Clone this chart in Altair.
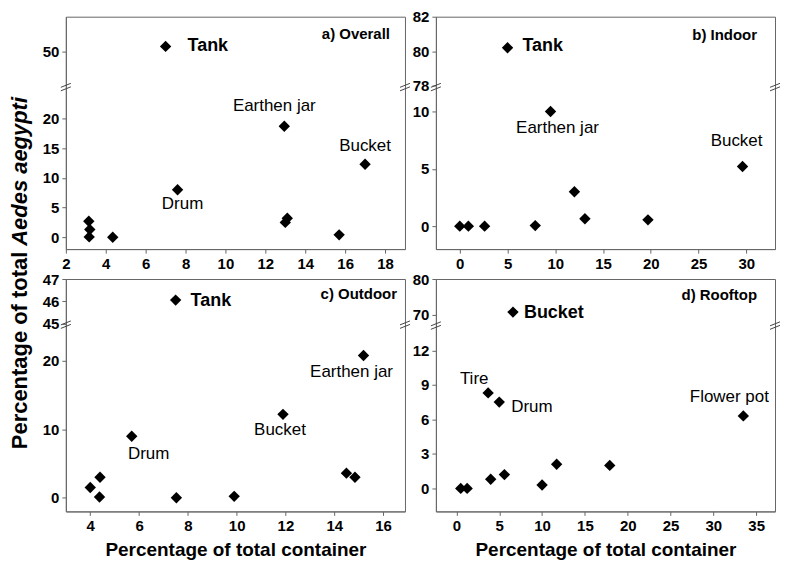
import altair as alt
import pandas as pd

FONT = "Liberation Sans"

# ---------------- data ----------------
# a) Overall
a_x = [7.0, 12.95, 17.0, 7.6, 3.15, 3.2, 3.17, 4.35, 13.0, 13.1, 15.7]
a_y = [51.4, 18.7, 12.3, 8.0, 2.7, 1.3, 0.05, 0.0, 2.5, 3.2, 0.4]
a_lab = ["Tank", "Earthen jar", "Bucket", "Drum", "", "", "", "", "", "", ""]

# b) Indoor
b_x = [5.0, 9.5, 29.6, 12.0, 13.1, 19.7, 0.0, 0.9, 2.6, 7.9]
b_y = [80.2, 10.0, 5.2, 3.0, 0.65, 0.55, 0.0, 0.0, 0.0, 0.05]
b_lab = ["Tank", "Earthen jar", "Bucket", "", "", "", "", "", "", ""]

# c) Outdoor
c_x = [7.5, 15.2, 11.9, 5.7, 4.0, 4.4, 4.38, 7.53, 9.9, 14.5, 14.85]
c_y = [46.05, 20.8, 12.2, 9.0, 1.5, 3.0, 0.1, 0.0, 0.2, 3.6, 3.0]
c_lab = ["Tank", "Earthen jar", "Bucket", "Drum", "", "", "", "", "", "", ""]

# d) Rooftop
d_x = [6.6, 3.7, 5.0, 33.5, 0.5, 1.25, 4.0, 5.6, 10.0, 11.7, 17.9]
d_y = [70.8, 8.3, 7.5, 6.3, 0.0, 0.0, 0.8, 1.2, 0.3, 2.1, 2.0]
d_lab = ["Bucket", "Tire", "Drum", "Flower pot", "", "", "", "", "", "", ""]

# axis ticks / domains
a_xticks = [2, 4, 6, 8, 10, 12, 14, 16, 18]
a_yticks = [0, 5, 10, 15, 20, 50]
b_xticks = [0, 5, 10, 15, 20, 25, 30]
b_yticks = [0, 5, 10, 78, 80, 82]
c_xticks = [4, 6, 8, 10, 12, 14, 16]
c_yticks = [0, 10, 20, 45, 46, 47]
d_xticks = [0, 5, 10, 15, 20, 25, 30, 35]
d_yticks = [0, 3, 6, 9, 12, 70, 80]

a_xdom = [2, 19]
b_xdom = [-2.5, 33]
c_xdom = [3, 16.9]
d_xdom = [-2.4, 37.2]
# broken y axes: lower segment then upper segment
a_ydom = [-2, 25.5, 40, 60]
b_ydom = [-2, 12.24, 78, 82]
c_ydom = [-2, 25.5, 45, 47]
d_ydom = [-2, 14.26, 67.4, 80]

ytitle_plain = ["Percentage of total"]
ytitle_italic = ["Aedes aegypti"]

# ---------------- styling / layout ----------------
W = 340
H = 233
GAP_X = 31
GAP_Y = 30
FRAME = "#666666"

brk_frac = {"a": 0.2975, "b": 0.2975, "c": 0.191, "d": 0.195}

# label offsets: (dx, dy, bold, align)
offsets = {
    "a": {"Tank": (22, 0, True, "left"), "Earthen jar": (-10, -20, False, "center"),
          "Bucket": (0, -18, False, "center"), "Drum": (5, 14, False, "center")},
    "b": {"Tank": (15, -2, True, "left"), "Earthen jar": (7, 17, False, "center"),
          "Bucket": (-6, -26, False, "center")},
    "c": {"Tank": (15, 1, True, "left"), "Earthen jar": (-12, 17, False, "center"),
          "Bucket": (-3, 16, False, "center"), "Drum": (17, 18, False, "center")},
    "d": {"Bucket": (11, 1, True, "left"), "Tire": (-14, -14, False, "center"),
          "Drum": (12, 5, False, "left"), "Flower pot": (-14, -19, False, "center")},
}
tags = {"a": ("a) Overall", 15, 17), "b": ("b) Indoor", 18, 18),
        "c": ("c) Outdoor", 8, 15), "d": ("d) Rooftop", 18, 16)}


def panel(key, xs, ys, labs, xdom, xticks, ydom, yticks, xtitle, extra=()):
    brk = H * brk_frac[key]
    df = pd.DataFrame({"x": xs, "y": ys, "label": labs})
    x_enc = alt.X("x:Q", scale=alt.Scale(domain=xdom, nice=False, zero=False),
                  axis=alt.Axis(values=xticks, title=xtitle, format="d"))
    y_enc = alt.Y("y:Q", scale=alt.Scale(domain=ydom, range=[H, brk, brk, 0],
                                         nice=False, zero=False),
                  axis=alt.Axis(values=yticks, title="", format="d"))
    base = alt.Chart(df)
    layers = [base.mark_point(shape="diamond", filled=True, size=130, color="black",
                              opacity=1).encode(x=x_enc, y=y_enc)]
    for lab, (dx, dy, bold, align) in offsets[key].items():
        layers.append(
            base.transform_filter(alt.datum.label == lab)
            .mark_text(dx=dx, dy=dy, align=align, baseline="middle", font=FONT,
                       fontSize=18 if bold else 17,
                       fontWeight="bold" if bold else "normal", color="black")
            .encode(x=x_enc, y=y_enc, text="label:N")
        )
    tag, tdx, tdy = tags[key]
    one = alt.Chart(pd.DataFrame({"t": [tag]}))
    layers.append(one.mark_text(align="right", baseline="middle", font=FONT,
                                fontSize=15, fontWeight="bold", color="black")
                  .encode(x=alt.value(W - tdx), y=alt.value(tdy), text="t:N"))
    # axis-break marks on left and right frame
    for x0 in [0, W]:
        for off in [0, 3.5]:
            layers.append(one.mark_rule(color="#444444", strokeWidth=1)
                          .encode(x=alt.value(x0 - 5), x2=alt.value(x0 + 5),
                                  y=alt.value(brk + 1.5 + off),
                                  y2=alt.value(brk - 2.5 + off)))
    layers.extend(extra)
    return alt.layer(*layers).properties(
        width=W, height=H, view=alt.ViewBackground(stroke=FRAME, strokeWidth=1))


# shared y-axis title (placed to the left of panel a, centred on both rows)
TOTAL_H = 2 * H + GAP_Y
JY = TOTAL_H * 0.469
TX = -46
ttl = alt.Chart(pd.DataFrame({"t": ytitle_plain, "u": ytitle_italic}))
ytitle_layers = [
    ttl.mark_text(angle=270, align="right", baseline="middle", font=FONT, fontSize=22,
                  fontWeight="bold", color="black")
    .encode(x=alt.value(TX), y=alt.value(JY + 3), text="t:N"),
    ttl.mark_text(angle=270, align="left", baseline="middle", font=FONT, fontSize=22,
                  fontWeight="bold", fontStyle="italic", color="black")
    .encode(x=alt.value(TX), y=alt.value(JY - 3), text="u:N"),
]

pa = panel("a", a_x, a_y, a_lab, a_xdom, a_xticks, a_ydom, a_yticks, "",
           extra=ytitle_layers)
pb = panel("b", b_x, b_y, b_lab, b_xdom, b_xticks, b_ydom, b_yticks, "")
pc = panel("c", c_x, c_y, c_lab, c_xdom, c_xticks, c_ydom, c_yticks,
           "Percentage of total container")
pd_ = panel("d", d_x, d_y, d_lab, d_xdom, d_xticks, d_ydom, d_yticks,
            "Percentage of total container")

chart = alt.concat(
    pa, pb, pc, pd_, columns=2, spacing={"row": GAP_Y, "column": GAP_X},
    bounds="flush",
).resolve_scale(x="independent", y="independent").properties(
    padding=0
).configure_axis(
    labelFont=FONT, labelFontSize=15, labelFontWeight="bold", labelColor="black",
    domainColor=FRAME, tickColor=FRAME, tickSize=4, labelPadding=3, grid=False,
    labelFlush=False, labelOverlap=False,
    titleFont=FONT, titleFontSize=19, titleFontWeight="bold", titleColor="black",
    titlePadding=7,
).configure_view(stroke=FRAME)

chart.save("out.html", embed_options={"renderer": "svg", "actions": False})
